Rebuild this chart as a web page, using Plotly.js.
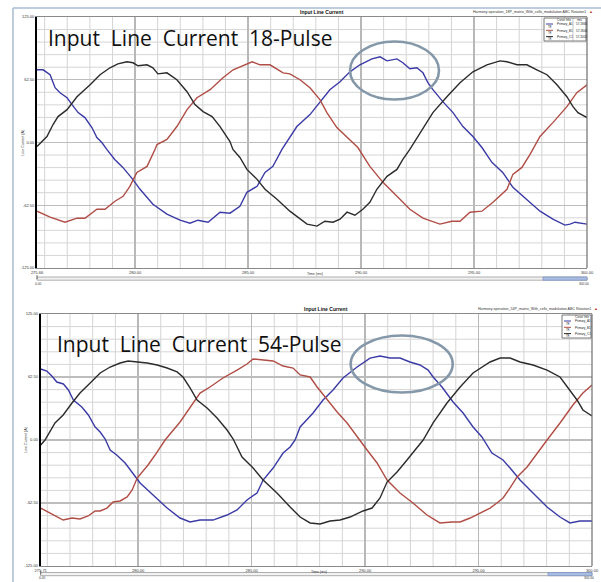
<!DOCTYPE html>
<html><head><meta charset="utf-8">
<script src="https://cdn.plot.ly/plotly-3.0.1.min.js"></script>
<style>html,body{margin:0;padding:0;background:#fff}#chart{width:601px;height:582px}</style>
</head><body><div id="chart"></div>
<script>
// ---------- data (time in ms, current in A) ----------
const seriesNames = ["Primary_A1","Primary_B1","Primary_C1"];
const rmsText = ["57.1866","57.1804","57.2005"];
const yTicks = [-125,-62.5,0,62.5,125];
const xTicks18 = [275.66,280,285,290,295,300];
const xTicks54 = [275.71,280,285,290,295,300];

// 18-pulse
const t18A = [275.66,275.93,276.24,276.46,276.68,276.99,277.21,277.48,277.78,278.09,278.31,278.53,278.75,279.10,279.46,279.90,280.22,280.79,281.41,281.99,282.43,282.78,283.23,283.76,284.20,284.64,284.95,285.40,285.75,286.10,286.50,287.16,287.74,288.18,288.62,289.07,289.51,289.95,290.48,290.84,291.15,291.59,291.85,292.16,292.47,292.74,292.96,293.18,293.62,294.07,294.51,294.95,295.35,295.79,296.27,296.72,297.34,297.92,298.49,299.02,299.25,299.47,300.00];
const i18A = [72.4,72.4,67.5,54.6,49.6,44.6,37.7,29.8,24.8,14.9,5.0,0,-6.9,-16.9,-24.8,-36.7,-46.6,-61.5,-71.4,-77.4,-80.4,-77.4,-79.4,-69.4,-70.4,-63.5,-49.6,-43.6,-29.8,-23.8,-6.9,15.9,27.8,40.7,52.6,60.5,70.4,77.4,83.3,85.3,81.3,83.3,79.4,73.4,74.4,69.4,59.5,52.6,40.7,29.8,15.9,6.0,-5.0,-19.8,-29.8,-44.6,-56.5,-68.4,-76.4,-82.3,-81.3,-79.4,-81.3];
const t18B = [275.66,276.24,276.90,277.43,277.78,278.31,278.67,279.11,279.47,279.77,280.08,280.53,280.88,280.97,281.41,281.85,282.30,282.74,283.32,283.89,284.34,284.78,285.18,285.53,285.97,286.55,286.85,287.30,287.74,288.18,288.49,288.93,289.51,289.86,290.39,290.97,291.59,292.16,292.74,293.49,294.02,294.38,294.82,295.35,295.84,296.46,296.72,297.12,297.48,297.92,298.49,299.11,299.55,300.00];
const i18B = [-68.4,-74.4,-79.4,-75.4,-75.4,-66.5,-66.5,-58.5,-53.6,-43.6,-29.8,-23.8,-6.9,-2.0,3.0,15.9,32.7,44.6,52.6,64.5,72.4,76.4,80.4,77.4,77.4,69.4,68.4,62.5,54.6,42.7,29.8,14.9,3.0,-5.0,-23.8,-39.7,-53.6,-66.5,-75.4,-81.3,-78.4,-78.4,-69.4,-68.4,-59.5,-46.6,-31.7,-24.8,-11.9,6.0,19.8,35.7,49.6,57.5];
const t18C = [275.66,276.10,276.37,276.59,276.99,277.43,278.01,278.45,278.89,279.24,279.64,279.91,280.13,280.53,280.79,281.01,281.41,281.85,282.30,282.65,283.01,283.41,283.76,284.20,284.33,284.64,284.95,285.40,285.75,286.28,286.85,287.30,287.61,288.05,288.40,288.76,289.07,289.38,289.73,290.08,290.39,290.70,291.15,291.59,291.85,292.16,292.61,293.18,293.80,294.38,294.95,295.57,296.15,296.46,296.90,297.34,297.78,298.23,298.67,299.11,299.38,299.60,300.00];
const i18C = [-4.0,6.0,17.9,25.8,32.7,45.6,57.5,67.5,74.4,78.4,80.4,79.4,76.4,77.4,74.4,68.4,69.4,62.5,50.6,37.7,30.8,25.8,15.9,1.0,-6.9,-14.9,-26.8,-36.7,-46.6,-56.5,-68.4,-76.4,-81.3,-83.3,-78.4,-79.4,-76.4,-69.4,-72.4,-66.5,-59.5,-46.6,-33.7,-26.8,-16.9,-6.9,9.9,29.8,45.6,59.5,70.4,77.4,81.3,80.4,77.4,77.4,72.4,67.5,57.5,45.6,35.7,29.8,24.8];

// 54-pulse
const t54A = [275.71,275.98,276.20,276.42,276.71,276.93,277.15,277.52,277.81,278.11,278.33,278.55,278.77,279.06,279.43,279.72,280.09,280.66,281.28,281.85,282.29,282.73,283.30,283.92,284.36,284.80,285.24,285.51,285.95,286.39,286.70,286.92,287.14,287.71,288.15,288.59,289.03,289.65,290.22,290.66,291.10,291.54,291.98,292.42,292.78,293.00,293.39,293.88,294.32,294.76,295.15,295.59,296.08,296.39,296.83,297.40,298.02,298.59,299.03,299.47,300.00];
const i54A = [70.4,68.4,63.5,57.5,55.6,49.6,39.7,32.7,24.8,12.9,7.9,1.0,-9.9,-14.9,-22.8,-31.7,-42.7,-54.6,-67.5,-77.4,-81.3,-79.4,-79.4,-74.4,-69.4,-59.5,-52.6,-39.7,-27.8,-12.9,-6.9,0,12.9,26.8,39.7,49.6,61.5,72.4,81.3,83.3,81.3,81.3,77.4,74.4,69.4,62.5,52.6,37.7,26.8,12.9,3.0,-12.9,-19.8,-27.8,-39.7,-52.6,-66.5,-76.4,-82.3,-80.4,-80.4];
const t54B = [275.71,276.12,276.70,277.09,277.44,277.80,278.11,278.33,278.63,278.90,279.21,279.52,279.74,279.96,280.18,280.44,280.75,281.06,281.19,281.85,282.29,282.73,283.17,283.74,284.36,284.80,285.07,285.51,285.95,286.39,286.83,287.14,287.58,287.89,288.33,288.77,289.21,289.65,290.09,290.53,290.97,291.54,292.11,292.73,293.30,293.83,294.19,294.63,295.07,295.51,295.81,296.08,296.39,296.70,297.14,297.58,298.02,298.59,299.16,299.60,300.00];
const i54B = [-67.5,-72.4,-79.4,-77.4,-78.4,-75.4,-70.4,-70.4,-67.5,-61.5,-60.5,-56.5,-49.6,-37.7,-31.7,-24.8,-14.9,-5.0,0,17.9,32.7,46.6,52.6,61.5,69.4,75.4,80.4,79.4,78.4,73.4,71.4,64.5,62.5,52.6,39.7,27.8,16.9,3.0,-9.9,-22.8,-39.7,-52.6,-62.5,-74.4,-82.3,-81.3,-81.3,-77.4,-72.4,-67.5,-62.5,-57.5,-47.6,-36.7,-26.8,-12.9,0,16.9,34.7,46.6,54.6];
const t54C = [275.71,275.90,276.34,276.70,277.09,277.44,277.89,278.33,278.77,279.21,279.56,279.96,280.40,280.84,281.28,281.72,281.98,282.29,282.60,283.04,283.48,283.92,284.19,284.58,285.07,285.51,286.12,286.70,287.14,287.58,288.02,288.46,288.90,289.34,289.91,290.31,290.66,290.97,291.41,291.85,292.29,292.56,293.00,293.61,294.19,294.76,295.51,295.95,296.39,296.83,297.40,298.02,298.59,299.03,299.34,299.60,300.00];
const i54C = [-5.0,0,16.9,24.8,36.7,46.6,56.5,66.5,72.4,76.4,78.4,77.4,76.4,74.4,71.4,67.5,62.5,51.6,39.7,31.7,21.8,9.9,1.0,-16.9,-27.8,-39.7,-52.6,-66.5,-76.4,-82.3,-83.3,-80.4,-79.4,-76.4,-70.4,-67.5,-57.5,-41.7,-31.7,-19.8,-6.9,0,16.9,36.7,52.6,66.5,77.4,81.3,81.3,77.4,74.4,69.4,62.5,49.6,39.7,29.8,23.8];

// ---------- styling ----------
const W = 601, H = 582;
const px = x => x / W;
const py = y => 1 - y / H;
const colors = ["#3b3ba6", "#b04d45", "#2b2b2b"];

const P1 = {x0:37, x1:587, y0:17, y1:268, bar:9};
const P2 = {x0:40.7, x1:592, y0:314, y1:566, bar:6.5};

// fine grid steps (1 ms, 12.5 A), skipping the labelled major steps
const xMinor = []; for (let v = 276; v < 300; v += 1) if (v % 5 !== 0) xMinor.push(v);
const yMinor = []; for (let v = -112.5; v < 125; v += 12.5) if (v % 62.5 !== 0) yMinor.push(v);

function mk(t, v, c, xa, ya, name){
  return {x:t, y:v, type:'scatter', mode:'lines', name:name, xaxis:xa, yaxis:ya,
          line:{color:c, width:1.4}, showlegend:false, hoverinfo:'skip'};
}
const data = [
  mk(t18A,i18A,colors[0],'x','y',seriesNames[0]),
  mk(t18B,i18B,colors[1],'x','y',seriesNames[1]),
  mk(t18C,i18C,colors[2],'x','y',seriesNames[2]),
  mk(t54A,i54A,colors[0],'x2','y2',seriesNames[0]),
  mk(t54B,i54B,colors[1],'x2','y2',seriesNames[1]),
  mk(t54C,i54C,colors[2],'x2','y2',seriesNames[2])
];

function xax(P, ticks, anchor){
  return {domain:[px(P.x0), px(P.x1)], range:[ticks[0], ticks[ticks.length-1]], anchor:anchor,
    tickmode:'array', tickvals:ticks, ticktext:ticks.map(v=>v.toFixed(2)),
    tickfont:{size:4, color:'#333', family:'Liberation Sans'}, ticks:'',
    showgrid:true, gridcolor:'#b8b8b8', gridwidth:1.6,
    showline:true, linecolor:'#8a8a8a', linewidth:1, mirror:true, zeroline:false, fixedrange:true};
}
function yax(P, anchor){
  return {domain:[py(P.y1), py(P.y0)], range:[-125,125], anchor:anchor,
    tickmode:'array', tickvals:yTicks, ticktext:yTicks.map(v=>v.toFixed(2)),
    tickfont:{size:4, color:'#333', family:'Liberation Sans'}, ticks:'',
    showgrid:true, gridcolor:'#bdbdbd', gridwidth:1.3,
    showline:true, linecolor:'#000', linewidth:2, zeroline:false, fixedrange:true};
}

const shapes = [];
const annotations = [];
// fine grid lines in data coordinates, drawn under the curves
function fineGrid(xr, yr){
  xMinor.forEach(v => shapes.push({type:'line', layer:'below', xref:xr, yref:yr+' domain', x0:v, x1:v, y0:0, y1:1, line:{color:'#d4d4d4', width:1}}));
  yMinor.forEach(v => shapes.push({type:'line', layer:'below', xref:xr+' domain', yref:yr, x0:0, x1:1, y0:v, y1:v, line:{color:'#d6d6d6', width:1}}));
}
fineGrid('x','y'); fineGrid('x2','y2');

function txt(x, y, s, o){
  annotations.push(Object.assign({xref:'paper', yref:'paper', x:px(x), y:py(y), text:s, showarrow:false,
    xanchor:'left', yanchor:'middle', font:{size:4, color:'#222', family:'Liberation Sans'}}, o||{}));
}
function line(x0,y0,x1,y1,c,w){
  shapes.push({type:'line', xref:'paper', yref:'paper', x0:px(x0), y0:py(y0), x1:px(x1), y1:py(y1), line:{color:c, width:w}});
}
function rect(x0,y0,x1,y1,fill,lc,lw){
  shapes.push({type:'rect', xref:'paper', yref:'paper', x0:px(x0), y0:py(y0), x1:px(x1), y1:py(y1), fillcolor:fill, line:{color:lc, width:lw}});
}

// outer window frame
line(13,8,601,8,'#a9bdd3',1.5);
line(13,8,13,582,'#a9bdd3',1.5);

function panel(P, label, subtitle, ell, legendW, showVals){
  line(P.x1, P.y0, P.x1, P.y1, '#6f6f6f', 1.2);
  txt((P.x0+P.x1)/2+10, P.y0-5, '<b>Input Line Current</b>', {xanchor:'center', font:{size:5, color:'#111', family:'Liberation Sans'}});
  txt(P.x1+1, P.y0-5, subtitle, {xanchor:'right', font:{size:3.6, color:'#333', family:'Liberation Sans'}});
  txt(P.x1+4, P.y0-6, '▲', {xanchor:'center', font:{size:4, color:'#c0392b'}});
  txt(P.x0-15, (P.y0+P.y1)/2, 'Line Current (A)', {xanchor:'center', textangle:-90, font:{size:3.6, color:'#333', family:'Liberation Sans'}});
  txt((P.x0+P.x1)/2-7, P.y1+6, 'Time (ms)', {font:{size:3.6, color:'#333', family:'Liberation Sans'}});
  const b0 = P.y1 + P.bar, b1 = b0 + 3.2;
  rect(P.x0, b0, P.x1, b1, '#f2f2f2', '#9a9a9a', 0.8);
  rect(P.x1-44, b0, P.x1, b1, '#a9bde2', '#7f95c4', 0.8);
  line(P.x0, b0-2, P.x0, b0+2, '#555', 0.8);
  const lb = Math.min(b1 + 7, 581.4);
  txt(P.x0-3, lb, '0.00', {yanchor:'bottom', borderpad:0, font:{size:3.2, color:'#333', family:'Liberation Sans'}});
  txt(P.x1+3, lb-0.4, '300.00', {xanchor:'right', yanchor:'bottom', borderpad:0, font:{size:3.2, color:'#333', family:'Liberation Sans'}});
  txt(label.x, label.y, label.s, {font:{size:21, color:'#111', family:'Open Sans'}});
  shapes.push({type:'circle', xref:'paper', yref:'paper', x0:px(ell.cx-ell.rx), x1:px(ell.cx+ell.rx),
    y0:py(ell.cy+ell.ry), y1:py(ell.cy-ell.ry), line:{color:'#8598a9', width:2.6}});
  const lx0 = P.x1 - legendW - 1, lx1 = P.x1 - 1, ly0 = P.y0 + 1, ly1 = P.y0 + 24;
  rect(lx0, ly0, lx1, ly1, '#ffffff', '#555', 0.8);
  txt(lx0 + 20, ly0 + 2.5, 'Curve Info', {xanchor:'center', font:{size:3, color:'#222', family:'Liberation Sans'}});
  if (showVals) {
    line(lx1-13, ly0, lx1-13, ly1, '#888', 0.5);
    txt(lx1-6.5, ly0 + 2.5, 'rms', {xanchor:'center', font:{size:3, color:'#222', family:'Liberation Sans'}});
  }
  for (let k=0;k<3;k++){
    const yy = ly0 + 7 + k*6.3;
    line(lx0+2, yy-1, lx0+9, yy-1, colors[k], 1);
    txt(lx0+2, yy+1.6, 'TR', {font:{size:2.6, color:'#222', family:'Liberation Sans'}});
    txt(lx0+11, yy-0.6, seriesNames[k], {font:{size:3, color:'#222', family:'Liberation Sans'}});
    if (showVals) txt(lx1-12, yy-0.6, rmsText[k], {font:{size:3, color:'#222', family:'Liberation Sans'}});
  }
}

panel(P1, {x:46, y:38, s:'Input\u00A0 Line\u00A0 Current\u00A0 18-Pulse'},
      'Harmony operation_18P_matrix_With_cells_modulation ABC Rotation1',
      {cx:394.5, cy:70.5, rx:44.5, ry:29}, 42, true);
panel(P2, {x:55, y:344, s:'Input\u00A0 Line\u00A0 Current\u00A0 54-Pulse'},
      'Harmony operation_54P_matrix_With_cells_modulation ABC Rotation1',
      {cx:401.7, cy:364, rx:51, ry:28.5}, 29, false);

const layout = {
  width:W, height:H, margin:{l:0,r:0,t:0,b:0}, paper_bgcolor:'#fff', plot_bgcolor:'rgba(0,0,0,0)',
  showlegend:false,
  xaxis: xax(P1, xTicks18, 'y'),
  yaxis: yax(P1, 'x'),
  xaxis2: xax(P2, xTicks54, 'y2'),
  yaxis2: yax(P2, 'x2'),
  shapes: shapes, annotations: annotations
};
Plotly.newPlot('chart', data, layout, {staticPlot:true, displayModeBar:false});
</script></body></html>
